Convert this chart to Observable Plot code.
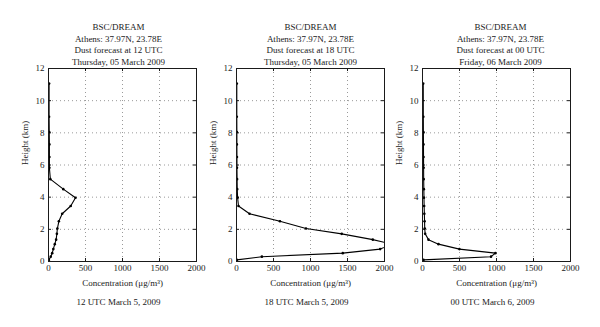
<!DOCTYPE html>
<html>
<head>
<meta charset="utf-8">
<script src="https://cdn.jsdelivr.net/npm/d3@7"></script>
<script src="https://cdn.jsdelivr.net/npm/@observablehq/plot@0.6"></script>
<style>
  html, body { margin: 0; padding: 0; background: white; }
  #wrap { position: relative; width: 600px; height: 327px; overflow: hidden; background: white; }
  #wrap > svg { position: absolute; top: 0; }
</style>
</head>
<body>
<div id="wrap"></div>
<script>
// Model levels (km)
const heights = [0.1, 0.3, 0.52, 0.77, 1.08, 1.36, 1.72, 2.05, 2.5, 2.97, 3.45, 3.96, 4.5, 5.12, 5.83, 6.5, 7.28, 8.05, 9.0, 11.06];
// Dust concentration (µg/m3) per level
const conc12 = [5, 30, 50, 65, 85, 103, 113, 120, 140, 185, 300, 365, 200, 25, 12, 12, 12, 10, 8, 8];
const conc18 = [5, 343, 1436, 1941, 2100, 1842, 1422, 939, 587, 176, 27, 15, 10, 8, 6, 6, 5, 5, 4, 4];
const conc00 = [13, 926, 985, 499, 216, 81, 36, 30, 28, 25, 22, 20, 18, 16, 15, 14, 13, 12, 11, 10];

const xTicks = [0, 500, 1000, 1500, 2000];
const yTicks = [0, 2, 4, 6, 8, 10, 12];
const xGrid = [500, 1000, 1500];
const yGrid = [2, 4, 6, 8, 10];

const titles = [
  ["BSC/DREAM", "Athens: 37.97N, 23.78E", "Dust forecast at 12 UTC", "Thursday, 05 March 2009"],
  ["BSC/DREAM", "Athens: 37.97N, 23.78E", "Dust forecast at 18 UTC", "Thursday, 05 March 2009"],
  ["BSC/DREAM", "Athens: 37.97N, 23.78E", "Dust forecast at 00 UTC", "Friday, 06 March 2009"]
];
const captions = ["12 UTC March 5, 2009", "18 UTC March 5, 2009", "00 UTC March 6, 2009"];
const xLabel = "Concentration (μg/m³)";
const yLabel = "Height (km)";

const series = [conc12, conc18, conc00];
const lefts = [3, 191, 377];
const titleDx = [-4, 0, 4];

const mL = 45, mR = 15, mT = 68, mB = 66, fw = 148, fh = 193;
const font = "'Liberation Serif', 'DejaVu Serif', serif";
const ink = "#1a1a1a";

const wrap = document.getElementById("wrap");
series.forEach((vals, k) => {
  const data = heights.map((h, i) => ({h, c: vals[i]}));
  const svg = Plot.plot({
    width: mL + fw + mR,
    height: 327,
    marginLeft: mL, marginRight: mR, marginTop: mT, marginBottom: mB,
    style: {fontFamily: font, fontSize: "9px", background: "transparent", overflow: "visible", color: ink},
    x: {domain: [0, 2000], label: null},
    y: {domain: [0, 12], label: null},
    marks: [
      Plot.gridX(xGrid, {stroke: "#9a9a9a", strokeOpacity: 1, strokeDasharray: "1,3"}),
      Plot.gridY(yGrid, {stroke: "#9a9a9a", strokeOpacity: 1, strokeDasharray: "1,3"}),
      Plot.axisX(xTicks, {anchor: "bottom", tickSize: 0, tickPadding: 3, fontSize: 9, tickFormat: d => String(d), label: null}),
      Plot.axisY(yTicks, {anchor: "left", tickSize: 0, tickPadding: 4, fontSize: 9, tickFormat: d => String(d), label: null}),
      Plot.tickX(xTicks, {x: d => d, insetTop: fh - 3, stroke: ink}),
      Plot.tickX(xTicks, {x: d => d, insetBottom: fh - 3, stroke: ink}),
      Plot.tickY(yTicks, {y: d => d, insetRight: fw - 3, stroke: ink}),
      Plot.tickY(yTicks, {y: d => d, insetLeft: fw - 3, stroke: ink}),
      Plot.line(data, {x: "c", y: "h", stroke: "black", strokeWidth: 1.1, clip: true}),
      Plot.dot(data, {x: "c", y: "h", r: 1.3, fill: "black", stroke: "none", clip: true}),
      Plot.frame({stroke: ink, strokeWidth: 1}),
      Plot.text([titles[k].join("\n")], {frameAnchor: "top", lineAnchor: "top", dy: -47, dx: titleDx[k], lineHeight: 1.3, fontSize: 9, fill: ink}),
      Plot.text([xLabel], {frameAnchor: "bottom", lineAnchor: "middle", dy: 22, fontSize: 9, fill: ink}),
      Plot.text([captions[k]], {frameAnchor: "bottom", lineAnchor: "middle", dy: 41, dx: -4, fontSize: 9, fill: ink}),
      Plot.text([yLabel], {frameAnchor: "left", rotate: -90, dx: -23, fontSize: 9, fill: ink})
    ]
  });
  svg.style.left = lefts[k] + "px";
  wrap.appendChild(svg);
});
</script>
</body>
</html>
